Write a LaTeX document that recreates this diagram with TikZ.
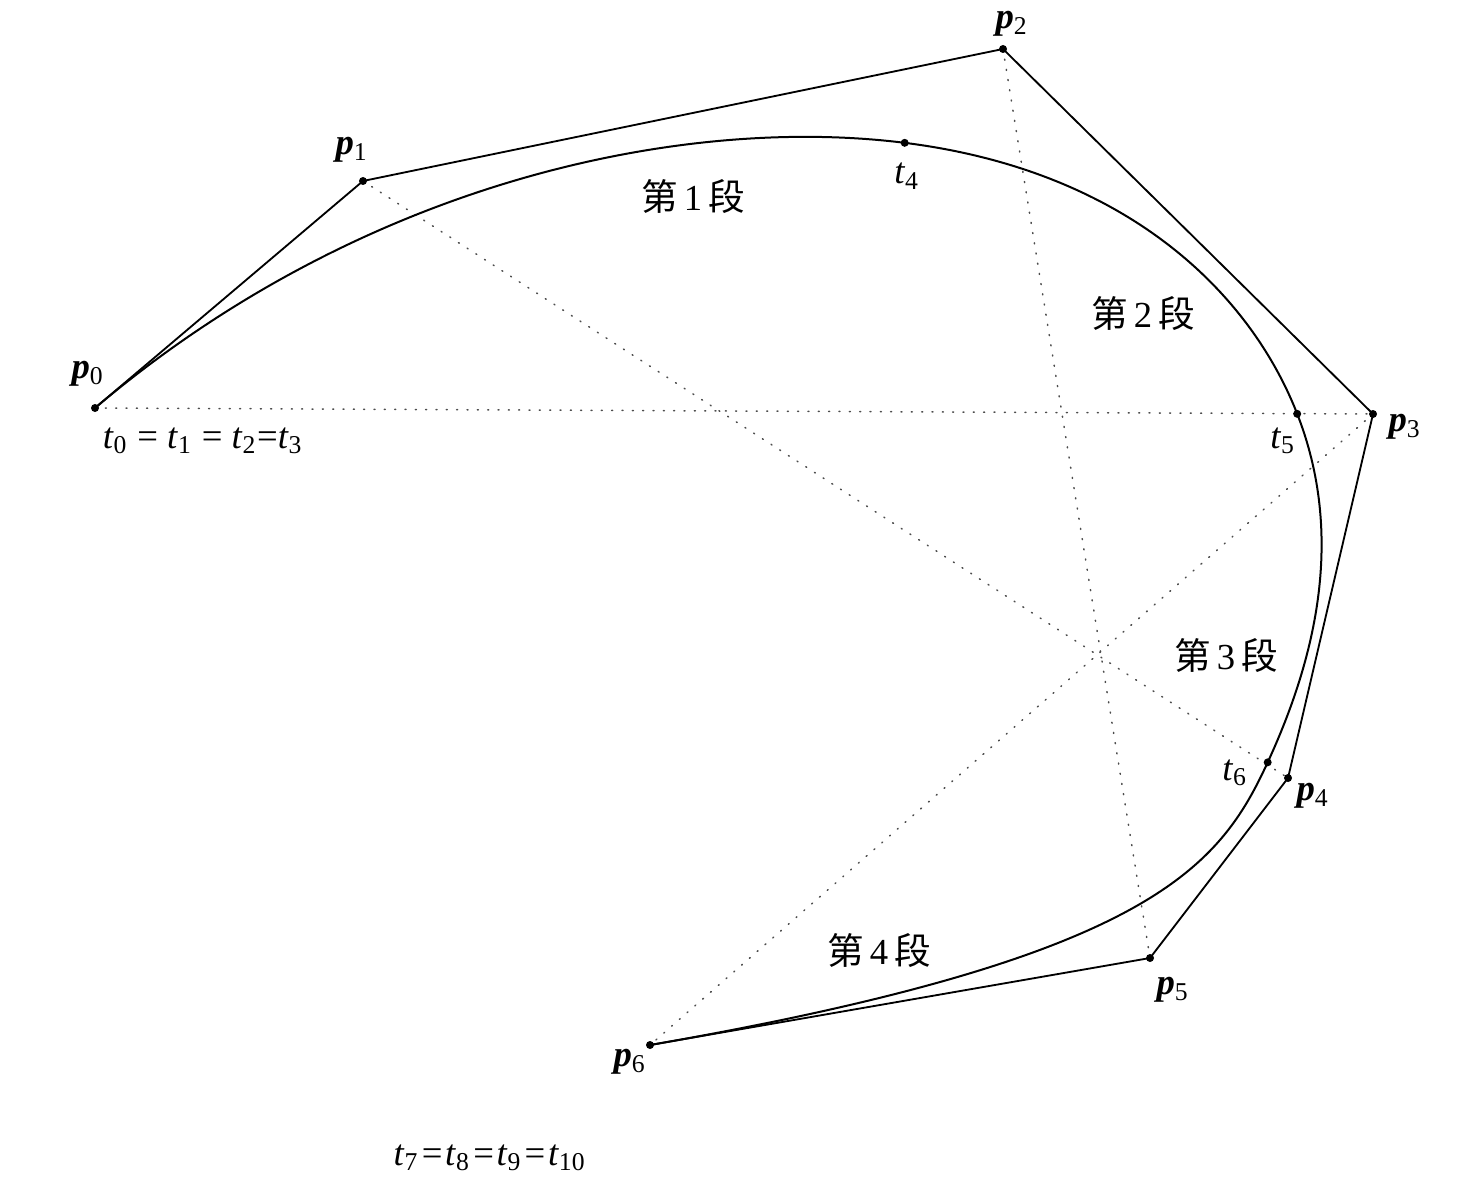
\documentclass[tikz,border=0pt]{standalone}
\usepackage{fontspec}
\setmainfont{Liberation Serif}
\newfontfamily\cjk{Noto Sans CJK SC}
\usetikzlibrary{calc}
\newcommand{\cpt}[1]{\textbf{\textit{p}}\textsubscript{#1}}
\newcommand{\knt}[1]{\textit{t}\textsubscript{#1}}
\newcommand{\dsg}[1]{{\cjk 第}\,#1\,{\cjk 段}}
\newcommand{\eqk}{\kern0.8pt=\kern0.8pt}

\begin{document}
\begin{tikzpicture}[x=0.3pt, y=-0.3pt, line join=round, line cap=round,
  polygon/.style={draw=black, line width=0.55pt},
  curve/.style={draw=black, line width=0.6pt},
  hull/.style={draw=black!70, line width=0.45pt, dash pattern=on 0.3pt off 2.8pt},
  lbl/.style={inner sep=0pt, font=\fontsize{11}{13}\selectfont}]
\useasboundingbox (0,0) rectangle (1472,1188);
% control points
\coordinate (p0) at (95,408);
\coordinate (p1) at (363,181);
\coordinate (p2) at (1003,49);
\coordinate (p3) at (1373,414);
\coordinate (p4) at (1288,778);
\coordinate (p5) at (1150,958);
\coordinate (p6) at (650,1045);
% bezier points of the four segments
\coordinate (a1) at ($(p1)!.5!(p2)$);
\coordinate (a2) at ($(p2)!1/3!(p3)$);
\coordinate (a3) at ($(p2)!2/3!(p3)$);
\coordinate (a4) at ($(p3)!1/3!(p4)$);
\coordinate (a5) at ($(p3)!2/3!(p4)$);
\coordinate (a6) at ($(p4)!.5!(p5)$);
\coordinate (t4) at ($(a1)!.5!(a2)$);
\coordinate (t5) at ($(a3)!.5!(a4)$);
\coordinate (t6) at ($(a5)!.5!(a6)$);
% hulls
\foreach \i/\j in {0/3,1/4,2/5,3/6}
  \path[hull] (p\i) -- (p\j);
\path[polygon] (p0) -- (p1) -- (p2) -- (p3) -- (p4) -- (p5) -- (p6);
\path[curve] (p0) .. controls (p1) and (a1) .. (t4)
  .. controls (a2) and (a3) .. (t5)
  .. controls (a4) and (a5) .. (t6)
  .. controls (a6) and (p5) .. (p6);
\foreach \n in {p0,p1,p2,p3,p4,p5,p6,t4,t5,t6}
  \fill (\n) circle (1.2pt);
% labels
\node[lbl] (lp0) at (88,374) {\cpt{0}};
\node[lbl] (lp1) at (352,150) {\cpt{1}};
\node[lbl] (lp2) at (1012,24) {\cpt{2}};
\node[lbl] (lp3) at (1405,427) {\cpt{3}};
\node[lbl] (lp4) at (1313,796) {\cpt{4}};
\node[lbl] (lp5) at (1173,990) {\cpt{5}};
\node[lbl] (lp6) at (630,1062) {\cpt{6}};
\node[lbl] (lt4) at (907,176) {\knt{4}};
\node[lbl] (lt5) at (1283,441) {\knt{5}};
\node[lbl] (lt6) at (1235,773) {\knt{6}};
\node[lbl] (lt0) at (203,441) {\knt{0} = \knt{1} = \knt{2}=\knt{3}};
\node[lbl] (lt7) at (490,1158) {\knt{7}\eqk\knt{8}\eqk\knt{9}\eqk\knt{10}};
% segments
\node[lbl] (s1) at (693,197) {\dsg{1}};
\node[lbl] (s2) at (1143,314) {\dsg{2}};
\node[lbl] (s3) at (1226,656) {\dsg{3}};
\node[lbl] (s4) at (879,951) {\dsg{4}};
\end{tikzpicture}
\end{document}
